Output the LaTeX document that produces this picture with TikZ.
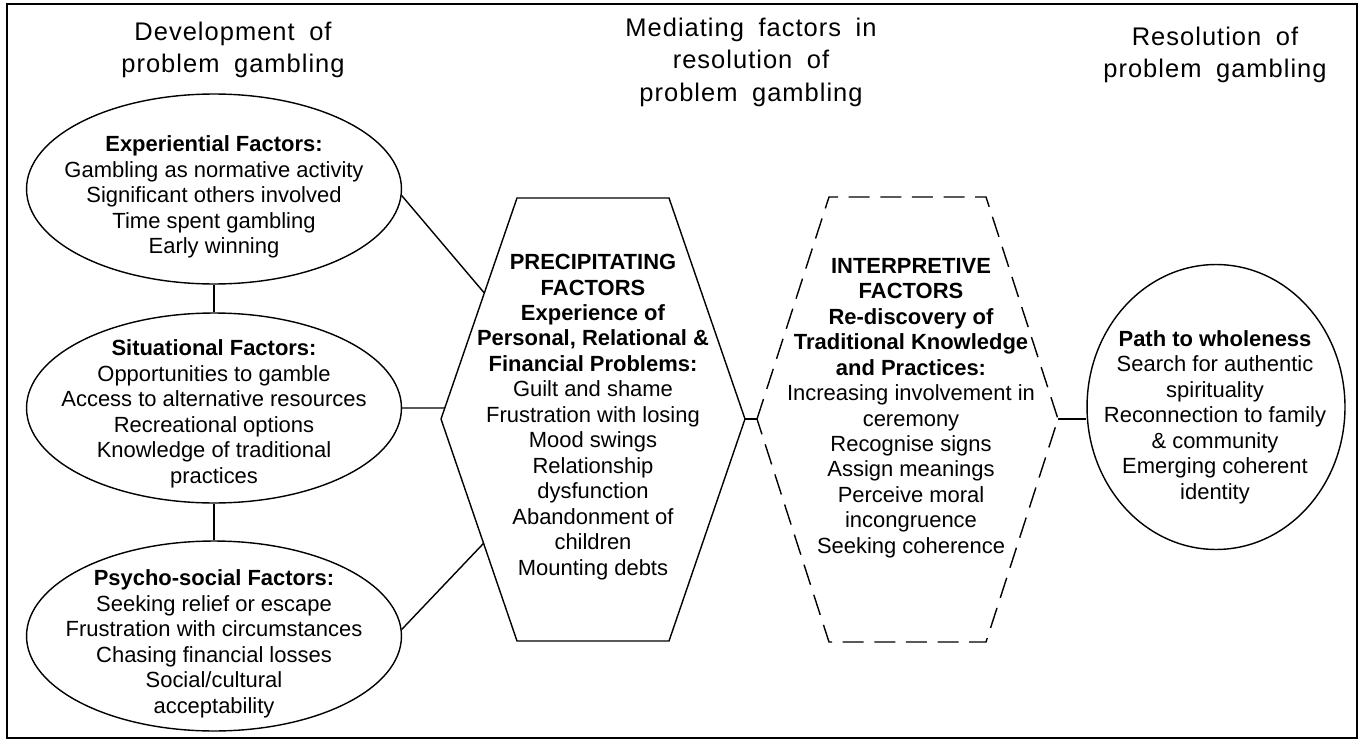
\documentclass[tikz,border=0pt]{standalone}
\usepackage{fontspec}
\setmainfont{Liberation Sans}
\newfontfamily\headfont[LetterSpace=4,WordSpace=1.8]{Liberation Sans}
\usepackage{tikz}
\usetikzlibrary{shapes.geometric,calc}

\begin{document}
\begin{tikzpicture}[x=0.02cm,y=-0.02cm,line width=0.8pt,
    factor/.style={draw,ellipse,inner sep=0pt,minimum width=7.5cm,minimum height=3.8cm},
    ftext/.style={align=center,inner sep=0pt,font=\fontsize{12.5}{14.5}\selectfont},
    heading/.style={align=center,inner sep=0pt,font=\headfont\fontsize{14.5}{18.5}\selectfont},
    dashedhex/.style={dash pattern=on 12pt off 6pt}]

    \useasboundingbox (0,0) rectangle (1364,743);

    % Frame
    \draw (7,4) rectangle (1357,738);

    % Headings
    \node[heading] (devhead) at (233,50) {Development of\\problem gambling};
    \node[heading] (medhead) at (751,62) {Mediating factors in\\resolution of\\problem gambling};
    \node[heading] (reshead) at (1215,55) {Resolution of\\problem gambling};

    % Development of problem gambling (ellipses)
    \node[factor] (exp) at (214,189) {};
    \node[ftext] (exptext) at (214,197) {\textbf{Experiential Factors:}\\Gambling as normative activity\\Significant others involved\\Time spent gambling\\Early winning};

    \node[factor] (sit) at (214,408) {};
    \node[ftext] (sittext) at (214,414) {\textbf{Situational Factors:}\\Opportunities to gamble\\Access to alternative resources\\Recreational options\\Knowledge of traditional\\practices};

    \node[factor] (psy) at (214,636) {};
    \node[ftext] (psytext) at (214,644) {\textbf{Psycho-social Factors:}\\Seeking relief or escape\\Frustration with circumstances\\Chasing financial losses\\Social/cultural\\acceptability};

    \draw (exp) -- (sit);
    \draw (sit) -- (psy);

    % Precipitating factors (hexagon)
    \coordinate (pw) at (441,419);
    \coordinate (pnw) at (517,198);
    \coordinate (pne) at (669,198);
    \coordinate (pe) at (745,419);
    \coordinate (pse) at (669,641);
    \coordinate (psw) at (517,641);
    \draw (pw) -- (pnw) -- (pne) -- (pe) -- (pse) -- (psw) -- cycle;
    \node[ftext] (prectext) at (593,417) {\textbf{PRECIPITATING}\\\textbf{FACTORS}\\\textbf{Experience of}\\\textbf{Personal, Relational \&}\\\textbf{Financial Problems:}\\Guilt and shame\\Frustration with losing\\Mood swings\\Relationship\\dysfunction\\Abandonment of\\children\\Mounting debts};

    % Interpretive factors (dashed hexagon)
    \coordinate (iw) at (757,419);
    \coordinate (inw) at (829,197);
    \coordinate (ine) at (986,197);
    \coordinate (ie) at (1058,419);
    \coordinate (ise) at (986,642);
    \coordinate (isw) at (829,642);
    \draw[dashedhex] (iw) -- (inw) -- (ine) -- (ie) -- (ise) -- (isw) -- cycle;
    \node[ftext] (inttext) at (911,408) {\textbf{INTERPRETIVE}\\\textbf{FACTORS}\\\textbf{Re-discovery of}\\\textbf{Traditional Knowledge}\\\textbf{and Practices:}\\Increasing involvement in\\ceremony\\Recognise signs\\Assign meanings\\Perceive moral\\incongruence\\Seeking coherence};

    % Path to wholeness
    \node[draw,ellipse,inner sep=0pt,minimum width=5.16cm,minimum height=5.7cm] (path) at (1216,407) {};
    \node[ftext] (pathtext) at (1215,417) {\textbf{Path to wholeness}\\Search for authentic\\spirituality\\Reconnection to family\\\& community\\Emerging coherent\\identity};

    % Connectors to the precipitating factors
    \coordinate (pa) at ($(pw)!0.57!(pnw)$);
    \coordinate (pb) at ($(pw)!0.05!(pnw)$);
    \coordinate (pc) at ($(pw)!0.56!(psw)$);
    \draw (exp.-2) -- (pa);
    \draw (sit.east) -- (pb);
    \draw (psy.2) -- (pc);

    % Connectors along the resolution path
    \draw (pe) -- (iw);
    \draw (ie) -- (ie -| path.west);

\end{tikzpicture}
\end{document}
